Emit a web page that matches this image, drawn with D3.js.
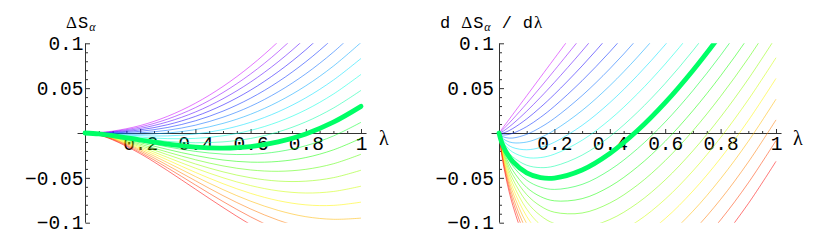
<!DOCTYPE html>
<html>
<head>
<meta charset="utf-8">
<script src="https://cdnjs.cloudflare.com/ajax/libs/d3/7.8.5/d3.min.js"></script>
<style>
  html, body { margin: 0; padding: 0; background: #fff; }
  svg { display: block; }
  .axis text { font-family: "Liberation Mono", "Courier New", monospace; font-size: 19.5px; fill: #000; }
  .axis line { stroke: #333; }
  .axis path { display: none; }
  .mono { font-family: "Liberation Mono", "Courier New", monospace; }
  .greek { font-family: "Liberation Serif", "Times New Roman", serif; }
</style>
</head>
<body>
<svg id="chart" width="830" height="244"></svg>
<script>
// lambda grid of the left panel (Delta S_alpha)
const LAMBDA_S = [0, 0.05, 0.1, 0.2, 0.3, 0.4, 0.5, 0.6, 0.7, 0.8, 0.9, 1.0];

// Delta S_alpha, one row per curve (purple -> red)
const DELTA_S = [
  [0,  0.0005,  0.0021,  0.0083,  0.0187,  0.0332,  0.0519,  0.0748,  0.1018,  0.1329,  0.1682,  0.2077],
  [0,  0.0004,  0.0016,  0.0067,  0.0156,  0.0283,  0.0451,  0.0658,  0.0906,  0.1195,  0.1526,  0.1899],
  [0,  0.0002,  0.0011,  0.0051,  0.0125,  0.0234,  0.0382,  0.0568,  0.0794,  0.1061,  0.1370,  0.1721],
  [0,  0.0001,  0.0006,  0.0035,  0.0093,  0.0185,  0.0313,  0.0478,  0.0683,  0.0928,  0.1214,  0.1543],
  [0, -0.0001,  0.0001,  0.0019,  0.0062,  0.0136,  0.0244,  0.0388,  0.0571,  0.0794,  0.1058,  0.1365],
  [0, -0.0002, -0.0004,  0.0002,  0.0031,  0.0087,  0.0176,  0.0298,  0.0459,  0.0660,  0.0902,  0.1187],
  [0, -0.0004, -0.0009, -0.0014,  0.0000,  0.0038,  0.0107,  0.0209,  0.0348,  0.0526,  0.0746,  0.1009],
  [0, -0.0005, -0.0014, -0.0030, -0.0032, -0.0011,  0.0038,  0.0119,  0.0236,  0.0392,  0.0590,  0.0831],
  [0, -0.0007, -0.0019, -0.0046, -0.0063, -0.0060, -0.0031,  0.0029,  0.0124,  0.0258,  0.0434,  0.0653],
  [0, -0.0008, -0.0024, -0.0062, -0.0094, -0.0109, -0.0099, -0.0061,  0.0012,  0.0124,  0.0278,  0.0475],
  [0, -0.0010, -0.0029, -0.0078, -0.0125, -0.0158, -0.0168, -0.0151, -0.0099, -0.0010,  0.0121,  0.0297],
  [0, -0.0011, -0.0034, -0.0093, -0.0155, -0.0205, -0.0235, -0.0238, -0.0208, -0.0142, -0.0033,  0.0119],
  [0, -0.0012, -0.0039, -0.0108, -0.0184, -0.0251, -0.0301, -0.0325, -0.0317, -0.0274, -0.0188, -0.0059],
  [0, -0.0014, -0.0043, -0.0124, -0.0214, -0.0298, -0.0367, -0.0412, -0.0427, -0.0405, -0.0343, -0.0237],
  [0, -0.0015, -0.0048, -0.0139, -0.0243, -0.0345, -0.0433, -0.0499, -0.0536, -0.0537, -0.0498, -0.0415],
  [0, -0.0016, -0.0052, -0.0154, -0.0273, -0.0392, -0.0499, -0.0586, -0.0645, -0.0669, -0.0652, -0.0593],
  [0, -0.0018, -0.0057, -0.0169, -0.0302, -0.0439, -0.0565, -0.0673, -0.0754, -0.0801, -0.0807, -0.0771],
  [0, -0.0019, -0.0062, -0.0184, -0.0332, -0.0485, -0.0631, -0.0760, -0.0863, -0.0933, -0.0962, -0.0949],
  [0, -0.0020, -0.0066, -0.0199, -0.0362, -0.0532, -0.0698, -0.0847, -0.0972, -0.1064, -0.1117, -0.1127],
  [0, -0.0022, -0.0071, -0.0215, -0.0391, -0.0579, -0.0764, -0.0935, -0.1081, -0.1196, -0.1271, -0.1305],
  [0, -0.0023, -0.0076, -0.0230, -0.0421, -0.0626, -0.0830, -0.1022, -0.1190, -0.1328, -0.1426, -0.1483]
];

// lambda grid of the right panel (d Delta S_alpha / d lambda)
const LAMBDA_D = [0, 0.01, 0.025, 0.05, 0.1, 0.15, 0.2, 0.3, 0.4, 0.5, 0.6, 0.7, 0.8, 0.9, 1.0];

const D_DELTA_S = [
  [0,  0.0042,  0.0104,  0.0208,  0.0415,  0.0623,  0.0831,  0.1246,  0.1662,  0.2077,  0.2492,  0.2908,  0.3323,  0.3739,  0.4154],
  [0,  0.0026,  0.0073,  0.0155,  0.0329,  0.0511,  0.0698,  0.1080,  0.1473,  0.1872,  0.2277,  0.2687,  0.3100,  0.3518,  0.3938],
  [0,  0.0011,  0.0041,  0.0102,  0.0243,  0.0399,  0.0564,  0.0914,  0.1284,  0.1667,  0.2062,  0.2466,  0.2878,  0.3297,  0.3722],
  [0, -0.0004,  0.0010,  0.0050,  0.0157,  0.0287,  0.0431,  0.0748,  0.1095,  0.1462,  0.1846,  0.2245,  0.2655,  0.3076,  0.3506],
  [0, -0.0019, -0.0021, -0.0003,  0.0071,  0.0175,  0.0298,  0.0583,  0.0905,  0.1257,  0.1631,  0.2024,  0.2432,  0.2855,  0.3290],
  [0, -0.0034, -0.0052, -0.0056, -0.0015,  0.0063,  0.0164,  0.0417,  0.0716,  0.1052,  0.1415,  0.1802,  0.2209,  0.2634,  0.3074],
  [0, -0.0049, -0.0084, -0.0109, -0.0101, -0.0049,  0.0031,  0.0251,  0.0527,  0.0847,  0.1200,  0.1581,  0.1987,  0.2413,  0.2858],
  [0, -0.0064, -0.0115, -0.0162, -0.0187, -0.0161, -0.0103,  0.0085,  0.0338,  0.0642,  0.0984,  0.1360,  0.1764,  0.2192,  0.2642],
  [0, -0.0079, -0.0146, -0.0214, -0.0273, -0.0274, -0.0236, -0.0081,  0.0149,  0.0437,  0.0769,  0.1139,  0.1541,  0.1971,  0.2426],
  [0, -0.0094, -0.0177, -0.0267, -0.0359, -0.0386, -0.0369, -0.0247, -0.0040,  0.0232,  0.0553,  0.0918,  0.1318,  0.1750,  0.2210],
  [0, -0.0109, -0.0208, -0.0320, -0.0445, -0.0498, -0.0503, -0.0413, -0.0229,  0.0027,  0.0338,  0.0697,  0.1096,  0.1529,  0.1994],
  [0, -0.0123, -0.0237, -0.0369, -0.0526, -0.0603, -0.0629, -0.0573, -0.0413, -0.0175,  0.0123,  0.0473,  0.0866,  0.1297,  0.1763],
  [0, -0.0137, -0.0266, -0.0418, -0.0607, -0.0709, -0.0756, -0.0732, -0.0597, -0.0377, -0.0093,  0.0249,  0.0637,  0.1065,  0.1532],
  [0, -0.0150, -0.0295, -0.0467, -0.0687, -0.0815, -0.0883, -0.0892, -0.0781, -0.0580, -0.0308,  0.0025,  0.0408,  0.0834,  0.1301],
  [0, -0.0164, -0.0324, -0.0516, -0.0768, -0.0921, -0.1009, -0.1052, -0.0965, -0.0782, -0.0523, -0.0199,  0.0178,  0.0602,  0.1070],
  [0, -0.0178, -0.0353, -0.0565, -0.0849, -0.1027, -0.1136, -0.1211, -0.1149, -0.0984, -0.0738, -0.0423, -0.0051,  0.0371,  0.0839],
  [0, -0.0192, -0.0381, -0.0614, -0.0929, -0.1132, -0.1263, -0.1371, -0.1333, -0.1186, -0.0954, -0.0647, -0.0281,  0.0139,  0.0608],
  [0, -0.0206, -0.0410, -0.0663, -0.1010, -0.1238, -0.1389, -0.1530, -0.1517, -0.1388, -0.1169, -0.0872, -0.0510, -0.0093,  0.0377],
  [0, -0.0220, -0.0439, -0.0712, -0.1091, -0.1344, -0.1516, -0.1690, -0.1701, -0.1590, -0.1384, -0.1096, -0.0740, -0.0324,  0.0146],
  [0, -0.0233, -0.0468, -0.0761, -0.1171, -0.1450, -0.1643, -0.1850, -0.1885, -0.1792, -0.1599, -0.1320, -0.0969, -0.0556, -0.0085],
  [0, -0.0247, -0.0497, -0.0810, -0.1252, -0.1556, -0.1769, -0.2009, -0.2070, -0.1995, -0.1815, -0.1544, -0.1198, -0.0787, -0.0316]
];

// the highlighted (thick) curve
const THICK_INDEX = 10;

// ticks
const X_TICKS = [0.2, 0.4, 0.6, 0.8, 1];
const X_MINOR = [0.05, 0.1, 0.15, 0.25, 0.3, 0.35, 0.45, 0.5, 0.55, 0.65, 0.7, 0.75, 0.85, 0.9, 0.95];
const Y_TICKS = [-0.1, -0.05, 0.05, 0.1];
const Y_MINOR = [-0.09, -0.08, -0.07, -0.06, -0.04, -0.03, -0.02, -0.01,
                  0.01, 0.02, 0.03, 0.04, 0.06, 0.07, 0.08, 0.09];

// axis titles, as pieces (mono text, greek symbols, subscript)
const TITLE_LEFT = [
  { t: '\u0394', cls: 'greek' },
  { t: 'S', cls: 'mono' },
  { t: '\u03b1', cls: 'greek', sub: true }
];
const TITLE_RIGHT = [
  { t: 'd', cls: 'mono' },
  { t: '\u0394', cls: 'greek', gap: 10 },
  { t: 'S', cls: 'mono' },
  { t: '\u03b1', cls: 'greek', sub: true },
  { t: '/', cls: 'mono', gap: 10 },
  { t: 'd', cls: 'mono', gap: 10 },
  { t: '\u03bb', cls: 'greek' }
];

const Y_TOP = 43.3, Y_BOTTOM = 222.7;
const svg = d3.select('#chart');

const fmtX = d => String(d);
const fmtY = d => (d < 0 ? '\u2212' : '') + Math.abs(d);

// Hue like Mathematica's Hue[h]: purple (0.8) down to red (0)
const curveColor = (i, n) => d3.hsl(360 * 0.8 * (1 - i / (n - 1)), 1, 0.5).toString();

function drawPanel(p) {
  const x = d3.scaleLinear().domain([0, 1]).range([p.x0, p.x1]);
  const y = d3.scaleLinear().domain([-0.1, 0.1]).range([Y_BOTTOM, Y_TOP]);
  const g = svg.append('g');

  // clip to the plot range
  g.append('clipPath').attr('id', p.id + '-clip')
    .append('rect')
    .attr('x', x(-0.05)).attr('y', y(0.1))
    .attr('width', x(1.05) - x(-0.05))
    .attr('height', y(-0.1) - y(0.1));

  // axes
  const xAxisY = Math.round(y(0)) + 0.5;
  const yAxisX = Math.round(x(0)) + 0.5;

  g.append('g').attr('class', 'axis')
    .attr('transform', `translate(0,${xAxisY})`)
    .call(d3.axisBottom(x).tickValues(X_MINOR).tickSizeInner(-2.5).tickSizeOuter(0).tickFormat(''));
  g.append('g').attr('class', 'axis')
    .attr('transform', `translate(0,${xAxisY})`)
    .call(d3.axisBottom(x).tickValues(X_TICKS).tickSizeInner(-4.5).tickSizeOuter(0)
      .tickPadding(3).tickFormat(fmtX));

  g.append('g').attr('class', 'axis')
    .attr('transform', `translate(${yAxisX},0)`)
    .call(d3.axisLeft(y).tickValues(Y_MINOR).tickSizeInner(-2.5).tickSizeOuter(0).tickFormat(''));
  g.append('g').attr('class', 'axis')
    .attr('transform', `translate(${yAxisX},0)`)
    .call(d3.axisLeft(y).tickValues(Y_TICKS).tickSizeInner(-4.5).tickSizeOuter(0)
      .tickPadding(p.yPad).tickFormat(fmtY));

  g.append('line')
    .attr('x1', x(-0.027)).attr('x2', x(1.02))
    .attr('y1', xAxisY).attr('y2', xAxisY)
    .attr('stroke', '#333').attr('stroke-width', 1);
  g.append('line')
    .attr('x1', yAxisX).attr('x2', yAxisX)
    .attr('y1', y(0.1)).attr('y2', y(-0.1))
    .attr('stroke', '#333').attr('stroke-width', 1);

  // lambda label at the end of the horizontal axis
  g.append('text').attr('class', 'greek')
    .attr('x', p.lambdaX).attr('y', 145)
    .attr('font-size', 20)
    .text('\u03bb');

  // curves
  const line = d3.line()
    .x((d, j) => x(p.lambdas[j]))
    .y(d => y(d))
    .curve(d3.curveCatmullRom.alpha(0.5));

  const curves = g.append('g').attr('clip-path', `url(#${p.id}-clip)`);
  const n = p.rows.length;
  const thin = p.rows.map((r, i) => ({ r, i })).filter(d => d.i !== THICK_INDEX);

  curves.selectAll('path.thin')
    .data(thin)
    .enter().append('path')
    .attr('class', 'thin')
    .attr('d', d => line(d.r))
    .attr('fill', 'none')
    .attr('stroke', d => curveColor(d.i, n))
    .attr('stroke-opacity', 0.6)
    .attr('stroke-width', 0.9);

  curves.append('path')
    .attr('d', line(p.rows[THICK_INDEX]))
    .attr('fill', 'none')
    .attr('stroke', curveColor(THICK_INDEX, n))
    .attr('stroke-width', 4.8)
    .attr('stroke-linecap', 'round');

  return g;
}

// write a title piece by piece, each piece its own text element
function drawTitle(x0, y0, parts) {
  let cx = x0;
  parts.forEach(part => {
    cx += part.gap || 0;
    const t = svg.append('text')
      .attr('class', part.cls)
      .attr('x', cx)
      .attr('y', part.sub ? y0 + 2.5 : y0)
      .attr('font-size', part.sub ? 12 : 17)
      .attr('font-style', part.sub ? 'italic' : null)
      .text(part.t);
    cx += t.node().getComputedTextLength() + 1;
  });
}

drawPanel({ id: 'left', x0: 85, x1: 361, lambdas: LAMBDA_S, rows: DELTA_S, yPad: 2, lambdaX: 379 });
drawPanel({ id: 'right', x0: 499, x1: 776, lambdas: LAMBDA_D, rows: D_DELTA_S, yPad: 5.5, lambdaX: 793 });

drawTitle(66, 28, TITLE_LEFT);
drawTitle(440, 28, TITLE_RIGHT);
</script>
</body>
</html>
